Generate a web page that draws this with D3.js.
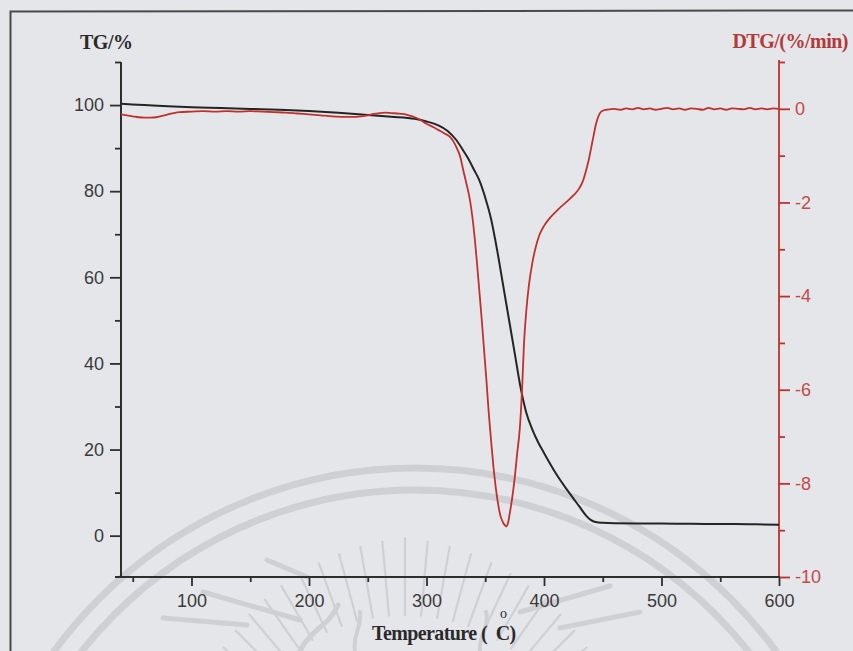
<!DOCTYPE html>
<html>
<head>
<meta charset="utf-8">
<script src="https://cdn.jsdelivr.net/npm/d3@7/dist/d3.min.js"></script>
<style>
  html, body { margin: 0; padding: 0; background: #e5e6ea; }
  svg { display: block; }
</style>
</head>
<body>
<svg id="chart" width="853" height="651"></svg>
<script>
// Thermogravimetric curve: mass remaining (%) versus temperature (°C)
const tgTemp = [40, 60, 80, 100, 125, 150, 175, 200, 225, 250, 270, 290, 300, 310, 318, 325, 330, 335, 340, 345,
  350, 355, 360, 365, 370, 375, 380, 385, 390, 395, 400, 410, 420, 430, 436, 440, 445, 450, 460, 480,
  500, 525, 550, 575, 600];
const tgValues = [100.3, 100.0, 99.7, 99.5, 99.3, 99.1, 98.9, 98.6, 98.2, 97.7, 97.3, 96.8, 96.2, 95.3, 94.0, 92.0, 90.0, 87.8, 85.2, 82.5,
  78.5, 73.5, 66.5, 58.5, 50.5, 42.5, 34.5, 28.5, 24.7, 21.7, 19.2, 14.5, 10.5, 6.8, 4.6, 3.6, 3.1, 3.0, 2.9, 2.85,
  2.8, 2.75, 2.7, 2.65, 2.55];

// Derivative curve: rate of mass change (%/min) versus temperature (°C)
const dtgTemp = [40, 45, 50, 55, 60, 65, 70, 75, 80, 85, 90, 100, 110, 120, 130, 140, 150, 160, 170, 180,
  190, 200, 210, 220, 230, 240, 250, 255, 260, 265, 270, 275, 280, 285, 290, 295, 300, 305, 310, 315,
  320, 323, 326, 329, 331, 334, 337, 339, 341, 343, 345, 347, 349, 351, 353, 355, 357, 359, 361, 363,
  365, 367, 368, 369, 371, 373, 375, 377, 379.5, 381.5, 383, 385, 387, 390, 393, 396, 400, 405, 410, 415,
  420, 425, 430, 433, 436, 438, 440, 442, 444, 446, 448, 450, 453, 456, 460, 465, 470, 475, 480, 485,
  490, 495, 500, 505, 510, 515, 520, 525, 530, 535, 540, 545, 550, 555, 560, 565, 570, 575, 580, 585,
  590, 595, 600];
const dtgValues = [-0.12, -0.14, -0.16, -0.18, -0.19, -0.19, -0.18, -0.15, -0.12, -0.09, -0.07, -0.06, -0.05, -0.06, -0.05, -0.06, -0.05, -0.06, -0.07, -0.08,
  -0.1, -0.12, -0.14, -0.16, -0.17, -0.17, -0.14, -0.11, -0.09, -0.08, -0.09, -0.1, -0.11, -0.14, -0.18, -0.24, -0.32, -0.38, -0.45, -0.52,
  -0.6, -0.7, -0.85, -1.05, -1.28, -1.6, -1.95, -2.3, -2.75, -3.3, -3.9, -4.5, -5.15, -5.8, -6.5, -7.1, -7.65, -8.1, -8.45, -8.7,
  -8.83, -8.9, -8.92, -8.88, -8.62, -8.3, -7.9, -7.4, -6.8, -5.9, -5.0, -4.3, -3.8, -3.3, -2.95, -2.7, -2.5, -2.33, -2.2, -2.08,
  -1.97, -1.85, -1.7, -1.55, -1.3, -1.1, -0.85, -0.6, -0.35, -0.18, -0.08, -0.04, -0.02, -0.01, 0.0, -0.02, 0.01, -0.01, 0.02, -0.01,
  0.01, -0.02, 0.0, 0.02, -0.01, 0.01, -0.02, 0.01, 0.0, -0.02, 0.02, -0.01, 0.01, -0.02, 0.01, 0.0, -0.01, 0.02, -0.01, 0.01,
  -0.01, 0.01, 0.0];

const xMajor = [100, 200, 300, 400, 500, 600];
const xMinor = [50, 150, 250, 350, 450, 550];
const tgMajor = [0, 20, 40, 60, 80, 100];
const tgMinor = [10, 30, 50, 70, 90, 110];
const dtgMajor = [0, -2, -4, -6, -8, -10];
const dtgMinor = [1, -1, -3, -5, -7, -9];

const svg = d3.select("#chart");
const W = 853, H = 651;
const plotLeft = 121, plotRight = 779, plotTop = 62, plotBottom = 577;

const ink = "#2e2e2e";
const red = "#c0302e";
const redText = "#c24a48";

// background and page frame
svg.append("rect").attr("width", W).attr("height", H).attr("fill", "#e5e6ea");
svg.append("path")
  .attr("d", `M10.5,${H} L10.5,11.5 L${W},10.5`)
  .attr("fill", "none").attr("stroke", "#4a4a4a").attr("stroke-width", 2);

// faint emblem printed behind the plot
const mark = svg.append("g").attr("fill", "none").attr("stroke", "#cfd0d4").attr("stroke-linecap", "round");
[447, 425].forEach(r => {
  mark.append("circle").attr("cx", 415).attr("cy", 915).attr("r", r).attr("stroke-width", 7);
});
const rayCx = 405, rayCy = 800;
d3.range(-150, -29, 5).forEach(a => {
  const t = a * Math.PI / 180;
  const r0 = 185, r1 = 262 - Math.abs(a + 90) * 0.5;
  mark.append("line")
    .attr("x1", rayCx + r0 * Math.cos(t)).attr("y1", rayCy + r0 * Math.sin(t))
    .attr("x2", rayCx + r1 * Math.cos(t)).attr("y2", rayCy + r1 * Math.sin(t))
    .attr("stroke-width", 2.2);
});
[[163, 618, 247, 625], [203, 592, 300, 620], [267, 560, 307, 577], [560, 628, 640, 612], [520, 612, 610, 586]]
  .forEach(s => {
    mark.append("line").attr("x1", s[0]).attr("y1", s[1]).attr("x2", s[2]).attr("y2", s[3]).attr("stroke-width", 5);
  });
mark.append("path").attr("d", "M300,651 C310,630 330,625 338,605").attr("stroke-width", 5);
mark.append("path").attr("d", "M355,651 C352,635 362,628 360,612").attr("stroke-width", 4);
mark.append("path").attr("d", "M480,651 C478,636 490,628 486,612").attr("stroke-width", 4);

// scales
const x = d3.scaleLinear().domain([40, 600]).range([plotLeft, plotRight]);
const yTG = d3.scaleLinear().domain([-9.6, 110]).range([plotBottom, plotTop]);
const yDTG = d3.scaleLinear().domain([-10, 1]).range([plotBottom, plotTop]);

const font = "'Liberation Sans', Arial, sans-serif";
const serif = "'Liberation Serif', 'Times New Roman', serif";
const plain = d => String(d);

function styleAxis(g, color, labelColor) {
  g.select(".domain").remove();
  g.selectAll(".tick line").attr("stroke", color).attr("stroke-width", 1.8);
  g.selectAll(".tick text").attr("fill", labelColor).style("font-family", font).style("font-size", "18px");
}

// bottom axis
const gx = svg.append("g").attr("transform", `translate(0,${plotBottom})`);
gx.call(d3.axisBottom(x).tickValues(xMajor).tickSize(9).tickSizeOuter(0).tickPadding(8).tickFormat(plain));
styleAxis(gx, ink, "#3a3a3a");
const gx2 = svg.append("g").attr("transform", `translate(0,${plotBottom})`);
gx2.call(d3.axisBottom(x).tickValues(xMinor).tickSize(5).tickSizeOuter(0).tickFormat(""));
styleAxis(gx2, ink, "#3a3a3a");

// left axis (TG)
const gl = svg.append("g").attr("transform", `translate(${plotLeft},0)`);
gl.call(d3.axisLeft(yTG).tickValues(tgMajor).tickSize(11).tickSizeOuter(0).tickPadding(6).tickFormat(plain));
styleAxis(gl, ink, "#3a3a3a");
const gl2 = svg.append("g").attr("transform", `translate(${plotLeft},0)`);
gl2.call(d3.axisLeft(yTG).tickValues(tgMinor).tickSize(6).tickSizeOuter(0).tickFormat(""));
styleAxis(gl2, ink, "#3a3a3a");

// right axis (DTG)
const gr = svg.append("g").attr("transform", `translate(${plotRight},0)`);
gr.call(d3.axisRight(yDTG).tickValues(dtgMajor).tickSize(11).tickSizeOuter(0).tickPadding(5).tickFormat(plain));
styleAxis(gr, red, redText);
const gr2 = svg.append("g").attr("transform", `translate(${plotRight},0)`);
gr2.call(d3.axisRight(yDTG).tickValues(dtgMinor).tickSize(6).tickSizeOuter(0).tickFormat(""));
styleAxis(gr2, red, redText);

// axis lines
svg.append("line").attr("x1", plotRight).attr("x2", plotRight).attr("y1", plotTop - 2).attr("y2", plotBottom)
  .attr("stroke", red).attr("stroke-width", 1.8);
svg.append("line").attr("x1", plotLeft).attr("x2", plotLeft).attr("y1", plotTop).attr("y2", plotBottom)
  .attr("stroke", ink).attr("stroke-width", 2);
svg.append("line").attr("x1", plotLeft - 6).attr("x2", plotRight + 1).attr("y1", plotBottom).attr("y2", plotBottom)
  .attr("stroke", ink).attr("stroke-width", 2);

// curves
const tgLine = d3.line().x((d, i) => x(tgTemp[i])).y(d => yTG(d)).curve(d3.curveMonotoneX);
const dtgLine = d3.line().x((d, i) => x(dtgTemp[i])).y(d => yDTG(d)).curve(d3.curveMonotoneX);

svg.append("path").attr("d", tgLine(tgValues)).attr("fill", "none")
  .attr("stroke", "#242424").attr("stroke-width", 2);
svg.append("path").attr("d", dtgLine(dtgValues)).attr("fill", "none")
  .attr("stroke", red).attr("stroke-width", 1.8);

// titles
svg.append("text").attr("x", 80).attr("y", 49).text("TG/%")
  .attr("fill", "#2a2a2a").style("font-family", serif).style("font-weight", "bold").style("font-size", "20px")
  .style("letter-spacing", "-0.5px");
svg.append("text").attr("x", 848).attr("y", 48).attr("text-anchor", "end").text("DTG/(%/min)")
  .attr("fill", "#b3393a").style("font-family", serif).style("font-weight", "bold").style("font-size", "20px")
  .style("letter-spacing", "-0.5px");
svg.append("text").attr("x", 372).attr("y", 640).text("Temperature (\u00a0\u00a0C)")
  .attr("fill", "#2a2a2a").style("font-family", serif).style("font-weight", "bold").style("font-size", "20px")
  .style("letter-spacing", "-0.6px");
svg.append("text").attr("x", 500).attr("y", 618).text("o")
  .attr("fill", "#2a2a2a").style("font-family", serif).style("font-size", "14px");
</script>
</body>
</html>
